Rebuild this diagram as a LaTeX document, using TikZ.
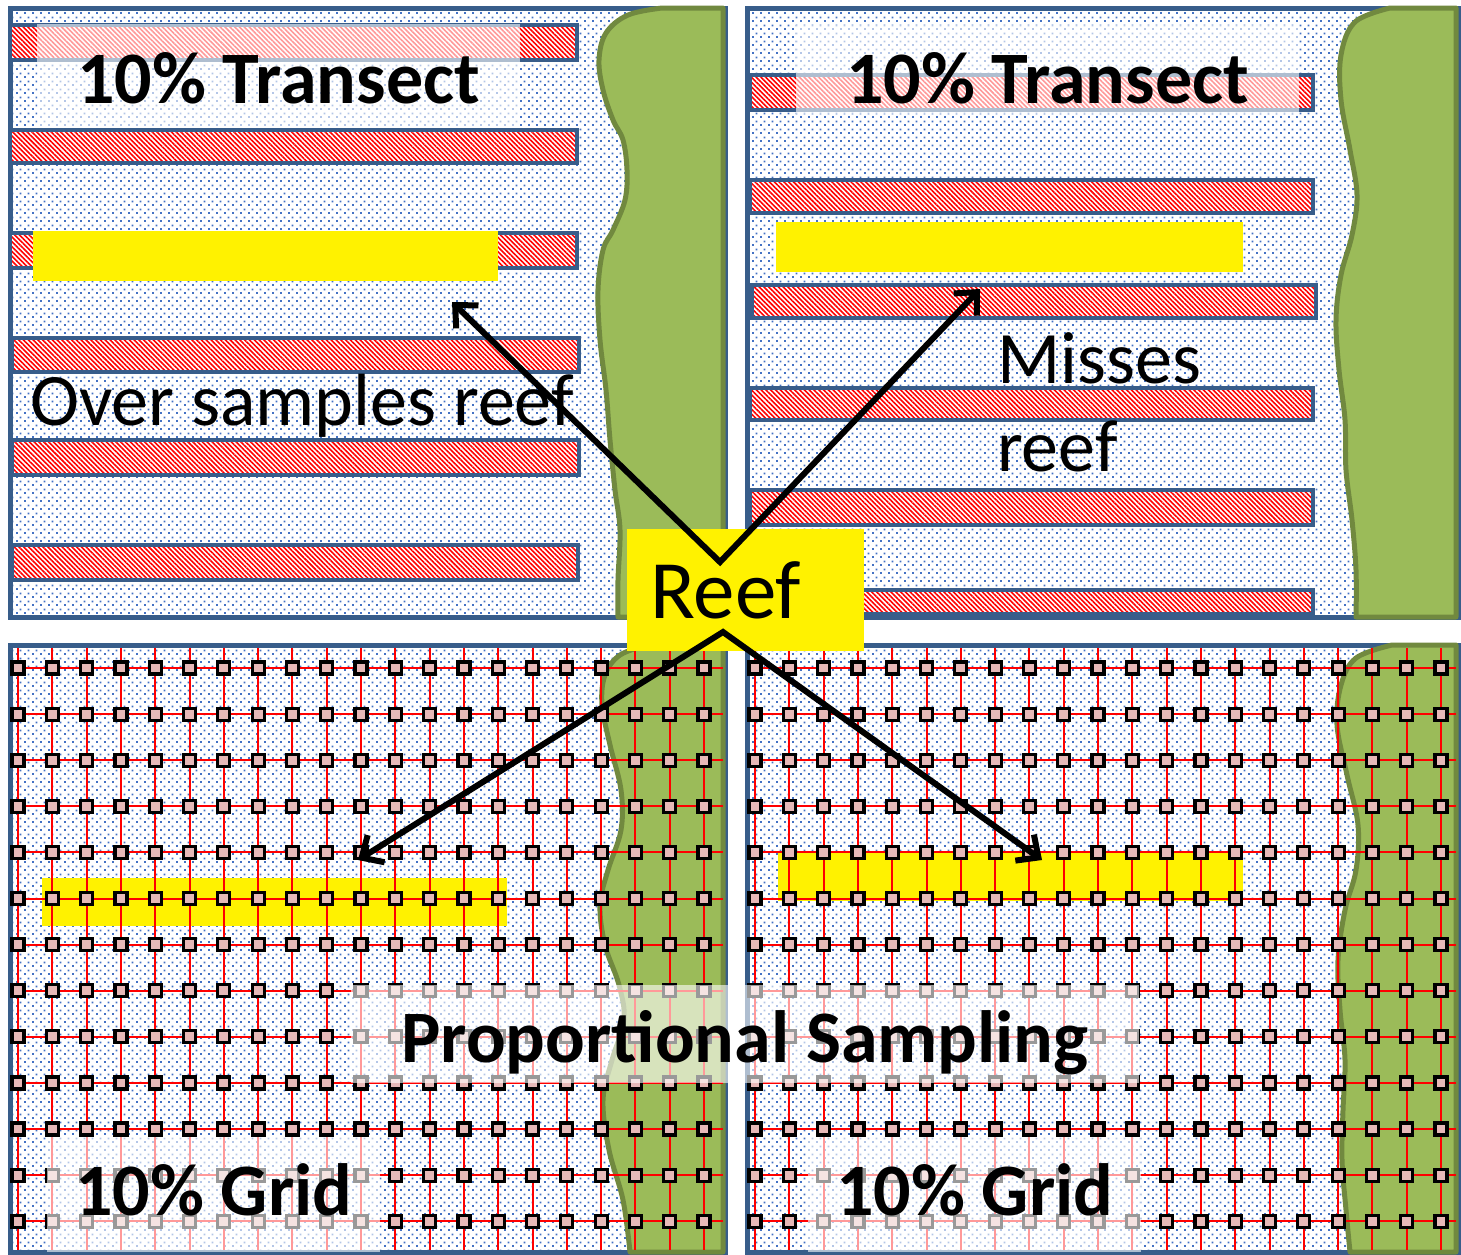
\documentclass[tikz,border=0pt]{standalone}
\usepackage{fontspec}
\setmainfont{Carlito}
\usetikzlibrary{patterns,patterns.meta,arrows.meta}

\definecolor{panelblue}{HTML}{385D8A}
\definecolor{dotblue}{HTML}{4472C4}
\definecolor{reefgreen}{HTML}{9BBB59}
\definecolor{reefedge}{HTML}{71893F}
\definecolor{gridpink}{HTML}{E6B9B8}

\tikzdeclarepattern{
  name=seadots,
  type=uncolored,
  bottom left={(0pt,0pt)},
  top right={(8pt,8pt)},
  tile size={(8pt,8pt)},
  code={
    \fill (0pt,0pt) rectangle (2.1pt,2.1pt);
    \fill (4pt,4pt) rectangle (6.1pt,6.1pt);
  }
}

\tikzstyle{panel} = [draw=panelblue, line width=5pt, preaction={fill=white}, pattern=seadots, pattern color=dotblue]
\tikzstyle{transect} = [draw=panelblue, line width=4pt, preaction={fill=white}, pattern={Lines[angle=-45,distance=3.4pt,line width=1.6pt]}, pattern color=red]
\tikzstyle{sample} = [fill=yellow]
\tikzstyle{reef} = [draw=reefedge, line width=5pt, fill=reefgreen, line join=round]
\tikzstyle{gridline} = [draw=red, line width=2pt]
\tikzstyle{gridpt} = [draw=black, fill=gridpink, line width=3.2pt]
\tikzstyle{title} = [font=\bfseries\fontsize{74}{88}\selectfont, fill=white, fill opacity=0.6, text opacity=1, inner ysep=0pt]
\tikzstyle{note} = [font=\fontsize{74}{88}\selectfont, inner sep=0pt]
\tikzstyle{reefbox} = [fill=yellow, font=\fontsize{83}{96}\selectfont, inner xsep=23pt, inner ysep=0pt, text width=191pt, align=left, minimum height=122pt]
\tikzstyle{pointer} = [line width=6pt, line join=miter, {Straight Barb[length=17pt,width=32pt]}-{Straight Barb[length=17pt,width=32pt]}]

\begin{document}
\begin{tikzpicture}[x=1pt, y=-1pt]
    \useasboundingbox (0,0) rectangle (1461,1254);
    % four survey areas
    \path[panel] (10,8) rectangle (725,617);
    \path[panel] (747,8) rectangle (1458,617);
    \path[panel] (10,645) rectangle (725,1252);
    \path[panel] (747,645) rectangle (1458,1252);
    % transects
    \foreach \xa/\ya/\xb/\yb in {10/25/577/60, 10/130/577/163, 10/233/577/268, 12/338/579/372, 12/440/579/475, 12/545/578/580,
        750/75/1313/110, 750/180/1313/213, 752/285/1316/318, 750/388/1313/420, 750/490/1313/525, 750/590/1313/614}
        \path[transect] (\xa,\ya) rectangle (\xb,\yb);
    % reef patches
    \path[sample] (33,231) rectangle (498,281);
    \path[sample] (776,222) rectangle (1243,272);
    \path[sample] (42,878) rectangle (507,926);
    \path[sample] (778,853) rectangle (1243,901);
    % shoreline
    \draw[reef] plot[smooth, tension=0.6] coordinates {(662,8) (628,15) (606,33) (599,60) (603,90) (613,120) (623,140) (627,170) (625,200) (613,230) (603,250) (598,290) (600,340) (606,390) (610,440) (615,490) (620,530) (618,580) (618,617)} -- (723,617) -- (723,8) -- cycle;
    \draw[reef] plot[smooth, tension=0.6] coordinates {(1390,8) (1355,22) (1341,55) (1341,100) (1350,150) (1357,195) (1352,235) (1341,275) (1336,320) (1339,370) (1345,420) (1346,470) (1352,520) (1356,570) (1356,617)} -- (1456,617) -- (1456,8) -- cycle;
    \draw[reef] plot[smooth, tension=0.6] coordinates {(648,645) (620,655) (605,675) (602,705) (610,745) (621,790) (621,830) (608,870) (600,905) (605,945) (619,985) (624,1020) (612,1060) (603,1100) (609,1150) (623,1200) (630,1252)} -- (723,1252) -- (723,645) -- cycle;
    \draw[reef] plot[smooth, tension=0.6] coordinates {(1392,645) (1356,658) (1341,685) (1337,725) (1347,775) (1358,825) (1356,870) (1345,910) (1338,960) (1340,1010) (1345,1060) (1343,1110) (1342,1160) (1346,1210) (1350,1252)} -- (1456,1252) -- (1456,645) -- cycle;
    % sampling grids
    \foreach \c in {0,...,20} {
        \draw[gridline] ({18+34.3*\c},648) -- ({18+34.3*\c},1250);
        \draw[gridline] ({755+34.3*\c},648) -- ({755+34.3*\c},1250);
    }
    \foreach \r in {0,...,12} {
        \draw[gridline] (12,{668+46.1*\r}) -- (723,{668+46.1*\r});
        \draw[gridline] (749,{668+46.1*\r}) -- (1456,{668+46.1*\r});
    }
    \foreach \c in {0,...,20}
        \foreach \r in {0,...,12} {
            \draw[gridpt] ({18+34.3*\c-6},{668+46.1*\r-6}) rectangle +(12,12);
            \draw[gridpt] ({755+34.3*\c-6},{668+46.1*\r-6}) rectangle +(12,12);
        }
    % labels
    \node[title, inner xsep=40pt, text height=79pt, text depth=24pt, anchor=base west] (tltitle) at (37,103) {10\% Transect};
    \node[title, inner xsep=50pt, text height=78pt, text depth=11pt, anchor=base west] (trtitle) at (796,103) {10\% Transect};
    \node[title, inner xsep=28pt, text height=78pt, text depth=37pt, anchor=base west] (bltitle) at (47,1215) {10\% Grid};
    \node[title, inner xsep=28pt, text height=78pt, text depth=37pt, anchor=base west] (brtitle) at (808,1215) {10\% Grid};
    \node[title, inner xsep=50pt, text height=77pt, text depth=21pt, anchor=base] (propl) at (745,1062) {Proportional Sampling};
    \node[note, anchor=base west] (over) at (30,425) {Over samples reef};
    \node[note, align=left] (misses) at (1099,402) {Misses\\reef};
    \node[reefbox, anchor=north west] (reef) at (627,529) {Reef};
    % pointers
    \coordinate (reeftop) at (720,562);
    \coordinate (reefbot) at (723,632);
    \coordinate (overtip) at (452,302);
    \coordinate (misstip) at (980,289);
    \coordinate (gridtipl) at (358,860);
    \coordinate (gridtipr) at (1042,860);
    \draw[pointer] (overtip) -- (reeftop) -- (misstip);
    \draw[pointer] (gridtipl) -- (reefbot) -- (gridtipr);
\end{tikzpicture}
\end{document}
